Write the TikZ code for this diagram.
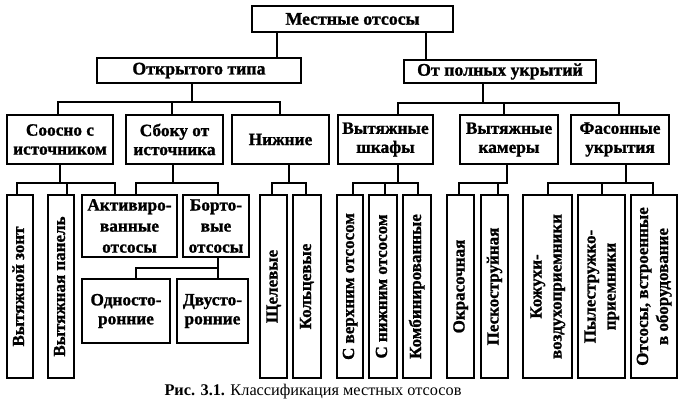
\documentclass[tikz,border=0pt]{standalone}
\usepackage{fontspec}
\setmainfont{Liberation Serif}
\newfontfamily\heavy[FakeBold=1.2]{Liberation Serif Bold}
\usepackage{graphicx}
\newcommand\boxfont{\heavy\fontsize{17.3}{19}\selectfont}
\newcommand\vtext[1]{\rotatebox{90}{\begin{tabular}{@{}c@{}}#1\end{tabular}}}
\tikzset{
  box/.style={draw, line width=1.8pt, inner sep=0pt, align=center, font=\boxfont},
  bigbox/.style={box, font=\heavy\fontsize{17.8}{20}\selectfont},
  tallbox/.style={box, minimum height=183, font=\heavy\fontsize{17}{20}\selectfont},
  threeline/.style={box, font=\heavy\fontsize{17.3}{21}\selectfont},
  conn/.style={line width=1.4pt, line cap=rect}
}
\begin{document}
\begin{tikzpicture}[x=1pt,y=-1pt]
\path[use as bounding box, fill=white] (0,0) rectangle (680,415);

% level 0
\node[bigbox, minimum width=201, minimum height=26] (T) at (352.5,19) {Местные отсосы};
% level 1
\node[bigbox, minimum width=204, minimum height=25] (O) at (199,70.5) {Открытого типа};
\node[bigbox, minimum width=192, minimum height=23] (P) at (500,71.5) {От полных укрытий};
% level 2
\node[box, minimum width=106, minimum height=49] (S1) at (60,139.5) {Соосно с\\источником};
\node[box, minimum width=97, minimum height=49] (S2) at (174.5,139.5) {Сбоку от\\источника};
\node[box, minimum width=97, minimum height=49] (S3) at (280.5,139.5) {Нижние};
\node[box, minimum width=95, minimum height=49] (R1) at (385.5,139.5) {Вытяжные\\шкафы};
\node[box, minimum width=98, minimum height=49] (R2) at (509,139.5) {Вытяжные\\камеры};
\node[box, minimum width=98, minimum height=49] (R3) at (620,139.5) {Фасонные\\укрытия};
% level 3 tall
\node[tallbox, minimum width=26] (A1) at (20,286.5) {\vtext{Вытяжной зонт}};
\node[tallbox, minimum width=26] (A2) at (61,286.5) {\vtext{Вытяжная панель}};
\node[tallbox, minimum width=27] (C1) at (273.5,286.5) {\vtext{Щелевые}};
\node[tallbox, minimum width=28] (C2) at (307,286.5) {\vtext{Кольцевые}};
\node[tallbox, minimum width=26] (D1) at (350,286.5) {\vtext{С верхним отсосом}};
\node[tallbox, minimum width=28] (D2) at (383,286.5) {\vtext{С нижним отсосом}};
\node[tallbox, minimum width=28] (D3) at (417,286.5) {\vtext{Комбинированные}};
\node[tallbox, minimum width=27] (E1) at (460.5,286.5) {\vtext{Окрасочная}};
\node[tallbox, minimum width=27] (E2) at (494.5,286.5) {\vtext{Пескоструйная}};
\node[tallbox, minimum width=49] (F1) at (547.5,286.5) {\vtext{Кожухи-\\воздухоприемники}};
\node[tallbox, minimum width=47] (F2) at (601.5,286.5) {\vtext{Пылестружко-\\приемники}};
\node[tallbox, minimum width=46] (F3) at (654,286.5) {\vtext{Отсосы, встроенные\\в оборудование}};
% level 3 short
\node[threeline, minimum width=95, minimum height=62] (B1) at (129.5,226) {Активиро-\\ванные\\отсосы};
\node[threeline, minimum width=66, minimum height=62] (B2) at (216,226) {Борто-\\вые\\отсосы};
\node[box, minimum width=88, minimum height=64] (G1) at (126,311) {Односто-\\ронние};
\node[box, minimum width=71, minimum height=64] (G2) at (212.5,311) {Двусто-\\ронние};

% caption
\node[font=\fontsize{16.3}{19}\selectfont] (cap) at (313,392) {\textbf{Рис. 3.1.} Классификация местных отсосов};

% connectors level 0 -> 1
\coordinate (t1) at (277,0);
\coordinate (t2) at (426,0);
\draw[conn] (T.south -| t1) -- (O.north -| t1);
\draw[conn] (T.south -| t2) -- (P.north -| t2);

% O -> S
\coordinate (ob) at (192,102);
\coordinate (os1) at (58,102);
\coordinate (os2) at (172,102);
\coordinate (os3) at (280,102);
\draw[conn] (O.south -| ob) -- (ob);
\draw[conn] (S1.north -| os1) -- (os1) -- (os3) -- (S3.north -| os3);
\draw[conn] (os2) -- (S2.north -| os2);

% P -> R
\coordinate (pb) at (483,103);
\coordinate (pr1) at (398,103);
\coordinate (pr2) at (504,103);
\coordinate (pr3) at (619,103);
\draw[conn] (P.south -| pb) -- (pb);
\draw[conn] (R1.north -| pr1) -- (pr1) -- (pr3) -- (R3.north -| pr3);
\draw[conn] (pr2) -- (R2.north -| pr2);

% S1 -> A1, A2, B1
\coordinate (s1b) at (60,183);
\coordinate (s1a) at (17,183);
\coordinate (s1c) at (67,183);
\coordinate (s1d) at (115,183);
\draw[conn] (S1.south -| s1b) -- (s1b);
\draw[conn] (A1.north -| s1a) -- (s1a) -- (s1d) -- (B1.north -| s1d);
\draw[conn] (s1c) -- (A2.north -| s1c);

% S2 -> B1, B2
\coordinate (s2b) at (173,183);
\coordinate (s2a) at (136,183);
\coordinate (s2c) at (218,183);
\draw[conn] (S2.south -| s2b) -- (s2b);
\draw[conn] (B1.north -| s2a) -- (s2a) -- (s2c) -- (B2.north -| s2c);

% B2 -> G1, G2
\coordinate (b2a) at (136,268);
\coordinate (b2c) at (218,268);
\draw[conn] (B2.south -| b2c) -- (b2c) -- (b2a) -- (G1.north -| b2a);
\draw[conn] (b2c) -- (G2.north -| b2c);

% S3 -> C1, C2
\coordinate (s3b) at (289,183);
\coordinate (s3a) at (272,183);
\coordinate (s3c) at (306,183);
\draw[conn] (S3.south -| s3b) -- (s3b);
\draw[conn] (C1.north -| s3a) -- (s3a) -- (s3c) -- (C2.north -| s3c);

% R1 -> D
\coordinate (r1b) at (398,183);
\coordinate (r1a) at (353,183);
\coordinate (r1m) at (385,183);
\coordinate (r1c) at (418,183);
\draw[conn] (R1.south -| r1b) -- (r1b);
\draw[conn] (D1.north -| r1a) -- (r1a) -- (r1c) -- (D3.north -| r1c);
\draw[conn] (r1m) -- (D2.north -| r1m);

% R2 -> E
\coordinate (r2b) at (507,183);
\coordinate (r2a) at (459,183);
\coordinate (r2c) at (498,183);
\draw[conn] (R2.south -| r2b) -- (r2b) -- (r2a) -- (E1.north -| r2a);
\draw[conn] (r2c) -- (E2.north -| r2c);

% R3 -> F
\coordinate (r3b) at (626,183);
\coordinate (r3a) at (548,183);
\coordinate (r3m) at (602,183);
\coordinate (r3c) at (653,183);
\draw[conn] (R3.south -| r3b) -- (r3b);
\draw[conn] (F1.north -| r3a) -- (r3a) -- (r3c) -- (F3.north -| r3c);
\draw[conn] (r3m) -- (F2.north -| r3m);
\end{tikzpicture}
\end{document}
